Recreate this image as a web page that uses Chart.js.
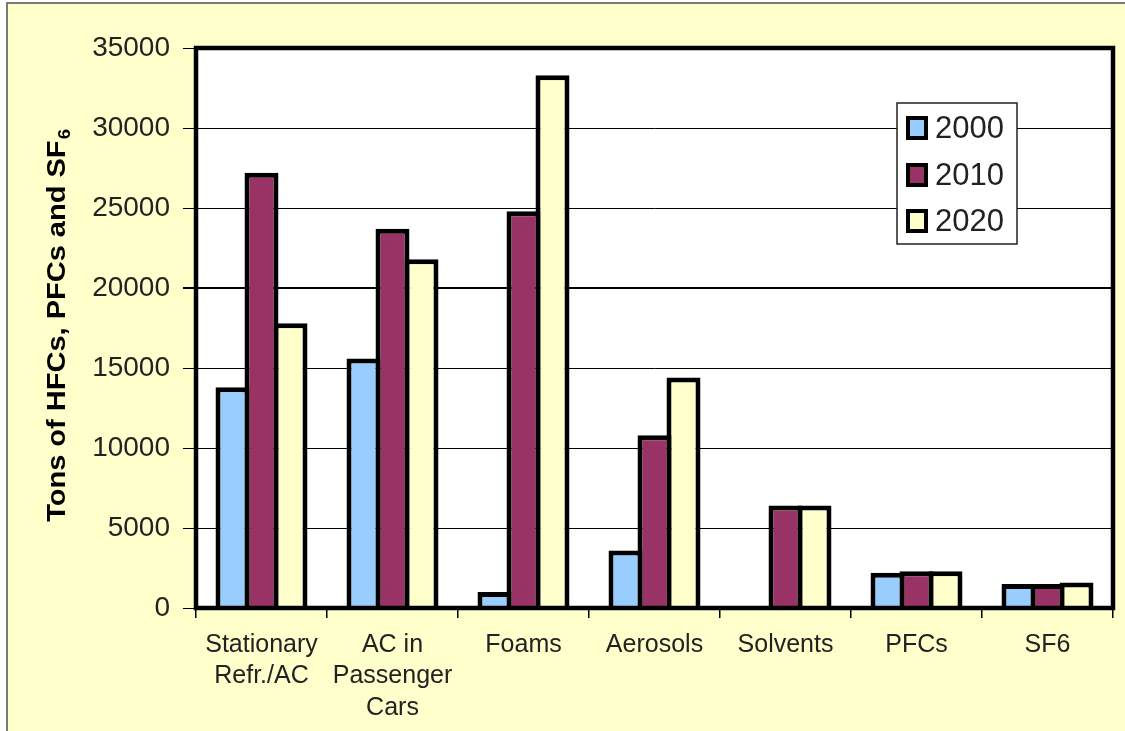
<!DOCTYPE html>
<html>
<head>
<meta charset="utf-8">
<script src="https://cdn.jsdelivr.net/npm/chart.js@4.4.1/dist/chart.umd.min.js"></script>
<style>
  html, body { margin: 0; padding: 0; background: #ffffff; }
  #frame { position: absolute; left: 6px; top: 2px; width: 1140px; height: 760px;
           background: #FFFFCC; border: 2px solid #7a7a7a; box-sizing: border-box; }
  #c { position: absolute; left: 0; top: 0; }
</style>
</head>
<body>
<div id="frame"></div>
<canvas id="c" width="1125" height="731"></canvas>
<script>
// ---- data ----
const categories = [
  ['Stationary', 'Refr./AC'],
  ['AC in', 'Passenger', 'Cars'],
  'Foams',
  'Aerosols',
  'Solvents',
  'PFCs',
  'SF6'
];
const seriesNames = ['2000', '2010', '2020'];
const values2000 = [13800, 15600, 1000, 3600, 0, 2200, 1500];
const values2010 = [27200, 23700, 24800, 10800, 6400, 2300, 1500];
const values2020 = [17800, 21800, 33300, 14400, 6400, 2300, 1600];
const yTickMin = 0, yTickMax = 35000, yTickStep = 5000;
const yTitle = 'Tons of HFCs, PFCs and SF';
const yTitleSub = '6';

const colors = ['#99CCFF', '#993366', '#FFFFCC'];
const FONT = '"Liberation Sans", Arial, Helvetica, sans-serif';
const TEXT = '#222222';

const plotBg = {
  id: 'plotBg',
  beforeDraw(chart) {
    const {ctx, chartArea: a} = chart;
    ctx.save();
    ctx.fillStyle = '#ffffff';
    ctx.fillRect(a.left, a.top, a.right - a.left, a.bottom - a.top);
    ctx.restore();
  }
};

const plotFrame = {
  id: 'plotFrame',
  afterDatasetsDraw(chart) {
    const {ctx, chartArea: a} = chart;
    ctx.save();
    ctx.strokeStyle = '#000';
    ctx.lineWidth = 4.5;
    ctx.strokeRect(a.left, a.top, a.right - a.left, a.bottom - a.top);
    ctx.restore();
  }
};

const yTitlePlugin = {
  id: 'yTitlePlugin',
  afterDraw(chart) {
    const ctx = chart.ctx;
    const a = chart.chartArea;
    ctx.save();
    ctx.translate(65, (a.top + a.bottom) / 2 - 2);
    ctx.scale(1, 1.16);
    ctx.rotate(-Math.PI / 2);
    ctx.fillStyle = '#000';
    ctx.font = 'bold 25px ' + FONT;
    const w1 = ctx.measureText(yTitle).width;
    ctx.font = 'bold 16px ' + FONT;
    const w2 = ctx.measureText(yTitleSub).width;
    const start = -(w1 + w2) / 2;
    ctx.textBaseline = 'alphabetic';
    ctx.textAlign = 'left';
    ctx.font = 'bold 25px ' + FONT;
    ctx.fillText(yTitle, start, 0);
    ctx.font = 'bold 16px ' + FONT;
    ctx.fillText(yTitleSub, start + w1 + 1, 5);
    ctx.restore();
  }
};

const legendPlugin = {
  id: 'legendPlugin',
  afterDraw(chart) {
    const ctx = chart.ctx;
    const bx = 897, by = 103, bw = 120, bh = 141;
    ctx.save();
    ctx.fillStyle = '#ffffff';
    ctx.fillRect(bx, by, bw, bh);
    ctx.strokeStyle = '#222';
    ctx.lineWidth = 1.5;
    ctx.strokeRect(bx, by, bw, bh);
    const centers = [128, 175, 221];
    chart.data.datasets.forEach((ds, i) => {
      const cy = centers[i];
      ctx.fillStyle = '#000';
      ctx.fillRect(906, cy - 12, 22, 24);
      ctx.fillStyle = ds.backgroundColor;
      ctx.fillRect(910, cy - 8, 14, 16);
      ctx.fillStyle = TEXT;
      ctx.font = '31px ' + FONT;
      ctx.textBaseline = 'middle';
      ctx.textAlign = 'left';
      ctx.fillText(ds.label, 935, cy + 1);
    });
    ctx.restore();
  }
};

const dsCommon = {
  borderColor: '#000',
  borderWidth: 5,
  borderSkipped: 'start',
  categoryPercentage: 0.664,
  barPercentage: 1.172
};

new Chart(document.getElementById('c'), {
  type: 'bar',
  data: {
    labels: categories,
    datasets: [
      Object.assign({label: seriesNames[0], data: values2000, backgroundColor: colors[0]}, dsCommon),
      Object.assign({label: seriesNames[1], data: values2010, backgroundColor: colors[1]}, dsCommon),
      Object.assign({label: seriesNames[2], data: values2020, backgroundColor: colors[2]}, dsCommon)
    ]
  },
  options: {
    responsive: false,
    devicePixelRatio: 1,
    animation: false,
    events: [],
    layout: { padding: { top: 48, right: 12, left: 0, bottom: 0 } },
    plugins: { legend: { display: false }, tooltip: { enabled: false } },
    scales: {
      x: {
        type: 'category',
        offset: true,
        border: { display: false },
        grid: {
          offset: true,
          drawOnChartArea: false,
          drawTicks: true,
          tickLength: 10,
          color: '#000',
          lineWidth: 1.5
        },
        ticks: {
          autoSkip: false,
          maxRotation: 0,
          minRotation: 0,
          padding: 11,
          color: TEXT,
          font: { family: FONT, size: 25, lineHeight: 1.26 }
        },
        afterFit(scale) { scale.height = 123; }
      },
      y: {
        min: yTickMin,
        max: yTickMax,
        border: { display: false },
        grid: {
          color: '#000',
          lineWidth: (c) => (c.tick && c.tick.value === 20000 ? 2 : 1),
          drawTicks: true,
          tickLength: 13
        },
        ticks: {
          stepSize: yTickStep,
          padding: 13,
          color: TEXT,
          font: { family: FONT, size: 28 },
          callback: (v) => String(v)
        },
        afterFit(scale) { scale.width = 196; }
      }
    }
  },
  plugins: [plotBg, plotFrame, yTitlePlugin, legendPlugin]
});
</script>
</body>
</html>
